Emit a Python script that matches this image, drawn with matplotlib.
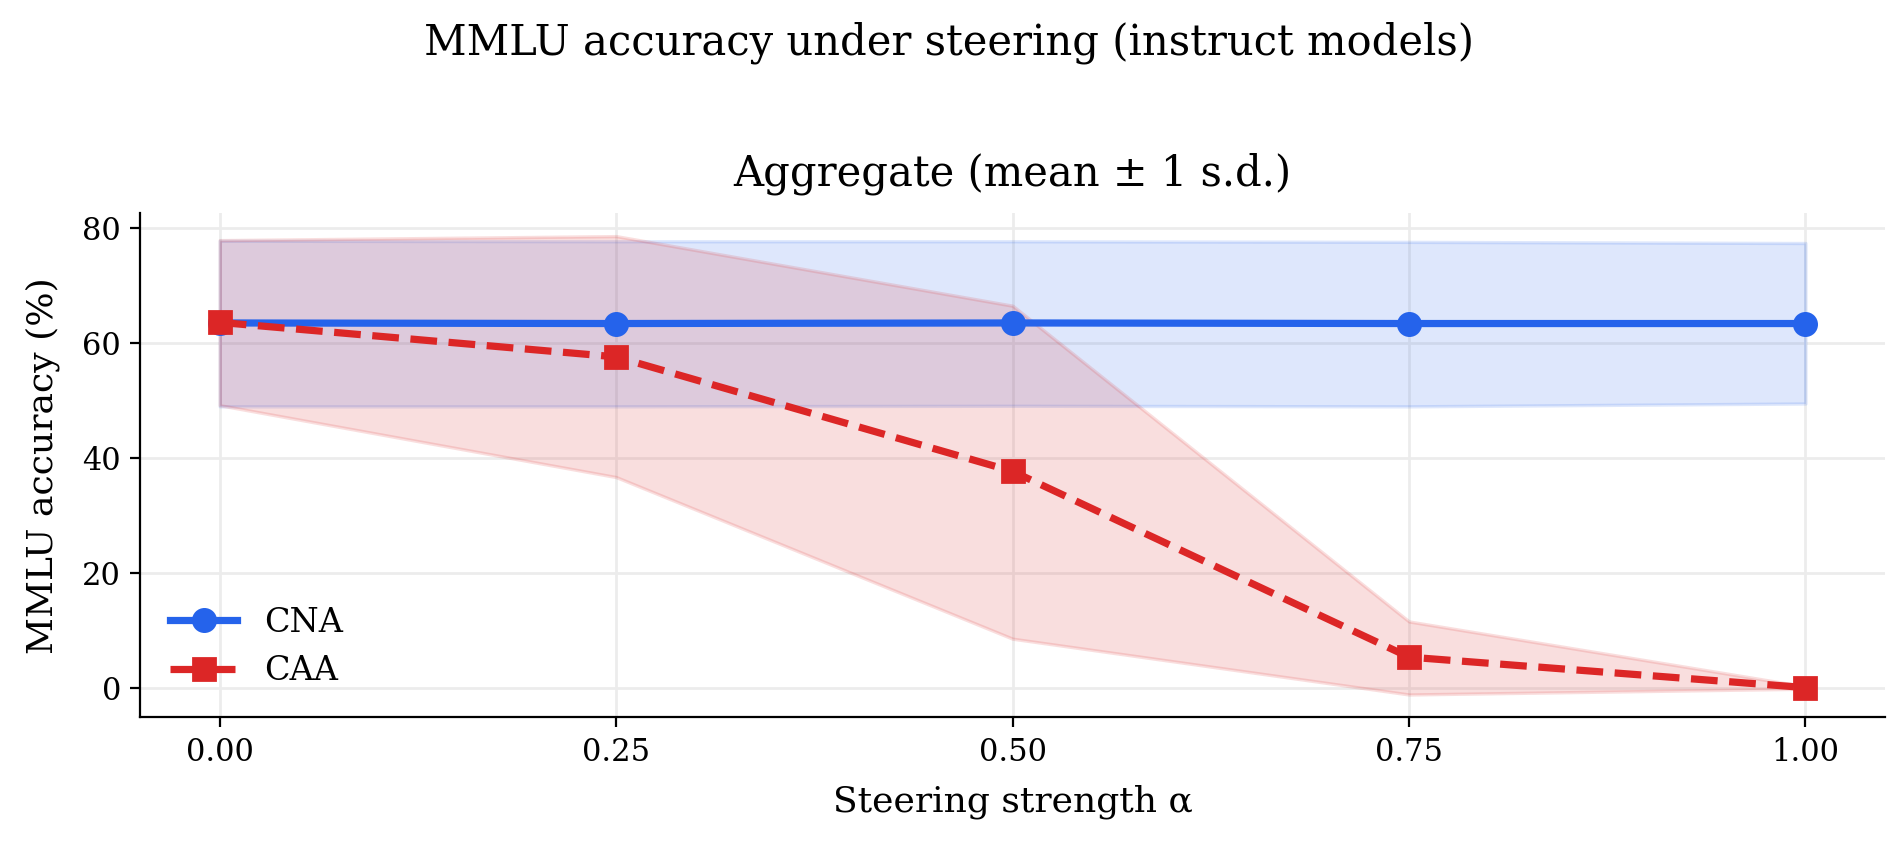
import numpy as np
import matplotlib
matplotlib.use("Agg")
import matplotlib.pyplot as plt

plt.rcParams['font.family'] = ['DejaVu Serif']

# steering strengths
alpha = [0.0, 0.25, 0.5, 0.75, 1.0]

# CNA: mean and +/- 1 s.d. band
cna_mean = [63.5, 63.4, 63.5, 63.4, 63.4]
cna_lo = [49.0, 49.0, 49.1, 49.0, 49.5]
cna_hi = [77.8, 77.7, 77.7, 77.6, 77.4]

# CAA: mean and +/- 1 s.d. band
caa_mean = [63.6, 57.6, 37.7, 5.4, 0.1]
caa_lo = [49.2, 36.7, 8.6, -1.1, -0.1]
caa_hi = [77.9, 78.6, 66.5, 11.6, 0.3]

blue = '#2563eb'
red = '#dc2626'

fig, ax = plt.subplots(figsize=(9.49, 4.23), dpi=200)

ax.fill_between(alpha, cna_lo, cna_hi, color=blue, alpha=0.15, linewidth=1.2)
ax.fill_between(alpha, caa_lo, caa_hi, color=red, alpha=0.15, linewidth=1.2)
ax.plot(alpha, cna_mean, color=blue, marker='o', markersize=8, linewidth=2.6, label='CNA')
ax.plot(alpha, caa_mean, color=red, marker='s', markersize=8, linewidth=2.6,
        linestyle='--', label='CAA')

ax.set_xticks(alpha)
ax.set_xticklabels(['0.00', '0.25', '0.50', '0.75', '1.00'])
ax.set_yticks([0, 20, 40, 60, 80])
ax.grid(True, color='#ececec', linewidth=1.0)
ax.set_axisbelow(True)
for s in ['top', 'right']:
    ax.spines[s].set_visible(False)

ax.set_xlabel('Steering strength α', fontsize=13, labelpad=6)
ax.set_ylabel('MMLU accuracy (%)', fontsize=13, labelpad=8)
ax.set_title('Aggregate (mean ± 1 s.d.)', fontsize=15, pad=10)
ax.tick_params(labelsize=11)
ax.legend(loc='lower left', frameon=False, fontsize=12)

fig.suptitle('MMLU accuracy under steering (instruct models)', fontsize=15, y=0.975)
fig.subplots_adjust(left=0.074, right=0.993, top=0.748, bottom=0.152)
fig.savefig('out.png', dpi=200)
